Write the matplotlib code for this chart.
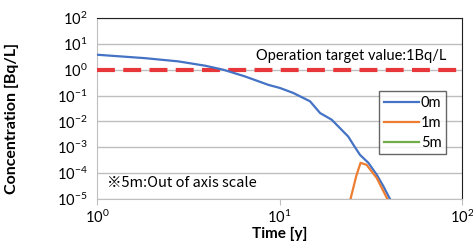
import matplotlib
matplotlib.use("Agg")
import matplotlib.pyplot as plt
from matplotlib.ticker import FuncFormatter
import numpy as np

# values
t_0m = [1.0, 1.83, 2.79, 3.91, 4.92, 6.47, 8.68, 10.07, 11.9, 14.7, 16.7, 19.3, 21.0,
        23.8, 25.4, 27.6, 30.7, 34.1, 37.1, 40.3]
c_0m = [3.8, 2.8, 2.1, 1.43, 1.0, 0.55, 0.26, 0.196, 0.126, 0.060, 0.021, 0.0117, 0.0064,
        0.0026, 0.00125, 5.1e-4, 2.5e-4, 8.7e-5, 3.1e-5, 1.0e-5]
t_1m = [24.5, 26.3, 27.8, 30.0, 34.1, 39.0]
c_1m = [1.0e-5, 7.5e-5, 2.5e-4, 2.1e-4, 6.5e-5, 1.0e-5]
t_5m = []
c_5m = []
target = 1.0

BLUE = "#4472C4"
ORANGE = "#ED7D31"
GREEN = "#70AD47"
RED = "#E8373A"
GRID = "#BFBFBF"
FS = 10.5

plt.rcParams["font.family"] = ["Lato", "DejaVu Sans"]

fig = plt.figure(figsize=(4.73, 2.46), dpi=100)
ax = fig.add_axes([97 / 473, 1 - 199 / 246, 365 / 473, 181 / 246])

ax.set_xscale("log")
ax.set_yscale("log")
ax.set_xlim(1, 100)
ax.set_ylim(1e-5, 1e2)

pow10 = FuncFormatter(lambda v, p: r"$\mathregular{10^{%d}}$" % round(np.log10(v)))
ax.set_yticks([10.0 ** k for k in range(-5, 3)])
ax.set_xticks([1, 10, 100])
ax.minorticks_off()
ax.xaxis.set_major_formatter(pow10)
ax.yaxis.set_major_formatter(pow10)
ax.yaxis.grid(True, color=GRID, linewidth=1)
ax.set_axisbelow(True)

ax.axhline(target, color=RED, linewidth=3, dashes=(4.3, 2.0), zorder=3)
ax.plot(t_0m, c_0m, color=BLUE, linewidth=1.6, label="0m", zorder=4)
ax.plot(t_1m, c_1m, color=ORANGE, linewidth=1.6, label="1m", zorder=4)
ax.plot(t_5m, c_5m, color=GREEN, linewidth=1.6, label="5m", zorder=4)

ax.text(0.696, 0.79, "Operation target value:1Bq/L", transform=ax.transAxes,
        ha="center", va="center", fontsize=FS)
ax.text(0.027, 0.088, "※5m:Out of axis scale", transform=ax.transAxes,
        ha="left", va="center", fontsize=FS,
        family=["Noto Sans CJK JP", "Lato", "DejaVu Sans"])

leg = ax.legend(loc="upper left", bbox_to_anchor=(0.773, 0.594), fontsize=FS,
                frameon=True, fancybox=False, edgecolor="#404040",
                handlelength=2.4, handletextpad=0.15, borderpad=0.3,
                labelspacing=0.42, borderaxespad=0)
leg.get_frame().set_linewidth(1)

for s in ["top", "right"]:
    ax.spines[s].set_color("#202020")
for s in ["left", "bottom"]:
    ax.spines[s].set_color(GRID)
ax.tick_params(axis="y", length=0, pad=7, labelsize=FS)
ax.tick_params(axis="x", length=4, color=GRID, pad=3, labelsize=FS)

ax.set_xlabel("Time [y]", fontweight="bold", fontsize=11, labelpad=0.5)
ax.set_ylabel("Concentration [Bq/L]", fontweight="bold", fontsize=11.5)
ax.yaxis.set_label_coords(-0.215, 0.447)

fig.savefig("out.png", dpi=100)
